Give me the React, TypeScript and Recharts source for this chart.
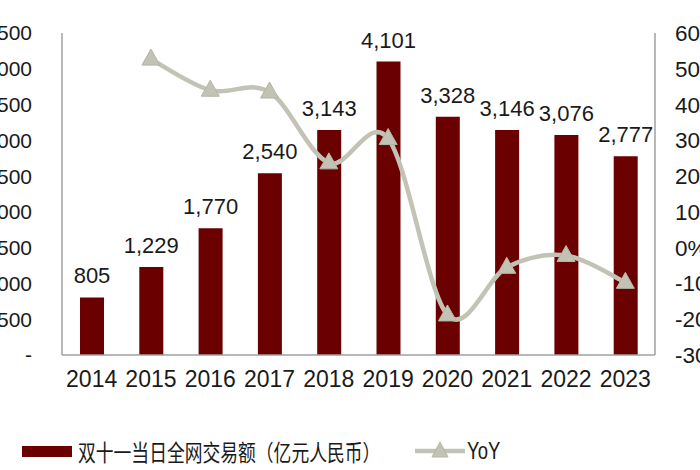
import React from 'react';
import { ComposedChart, Bar, Line, XAxis, YAxis, LabelList } from 'recharts';

const years = ['2014', '2015', '2016', '2017', '2018', '2019', '2020', '2021', '2022', '2023'];
const gmv = [805, 1229, 1770, 2540, 3143, 4101, 3328, 3146, 3076, 2777];
const yoy = [null, 52.7, 44.0, 43.5, 23.7, 30.5, -18.8, -5.5, -2.2, -9.7];
const leftTicks = [0, 500, 1000, 1500, 2000, 2500, 3000, 3500, 4000, 4500];
const rightTicks = [-30, -20, -10, 0, 10, 20, 30, 40, 50, 60];
const boundaryTicks = [1, 2, 3, 4, 5, 6, 7, 8, 9];

const data = years.map((y, i) => ({ year: y, gmv: gmv[i], yoy: yoy[i] }));

const BAR = '#6b0000';
const LINE = '#c3c3b5';
const AXIS = '#a0a0a0';
const TEXT = '#1a1a1a';
const FONT = '"Liberation Sans", Arial, sans-serif';

// Excel-style smoothed line (Catmull-Rom as cubic bezier)
const smoothCurve = (context: any) => {
    let pts: number[][] = [];
    return {
        areaStart() {},
        areaEnd() {},
        lineStart() { pts = []; },
        point(x: number, y: number) { pts.push([+x, +y]); },
        lineEnd() {
            if (!pts.length) return;
            context.moveTo(pts[0][0], pts[0][1]);
            for (let i = 0; i < pts.length - 1; i++) {
                const p0 = pts[i - 1] || pts[i];
                const p1 = pts[i];
                const p2 = pts[i + 1];
                const p3 = pts[i + 2] || p2;
                context.bezierCurveTo(
                    p1[0] + (p2[0] - p0[0]) / 6, p1[1] + (p2[1] - p0[1]) / 6,
                    p2[0] - (p3[0] - p1[0]) / 6, p2[1] - (p3[1] - p1[1]) / 6,
                    p2[0], p2[1]
                );
            }
        },
    };
};

const Triangle = (props: any) => {
    const { cx, cy, value, index } = props;
    if (value == null || cx == null || cy == null) return <g key={`t-${index}`} />;
    return (
        <polygon
            key={`t-${index}`}
            points={`${cx},${cy - 10} ${cx - 9},${cy + 6} ${cx + 9},${cy + 6}`}
            fill={LINE}
            stroke="#b5b5a6"
            strokeWidth={1}
        />
    );
};

export default function App() {
    return (
        <div style={{ position: 'absolute', top: 0, left: 0, width: 700, height: 470, overflow: 'hidden', background: '#fff' }}>
            <div style={{ position: 'absolute', top: 0, left: -30 }}>
                <ComposedChart width={745} height={470} data={data} margin={{ top: 33, right: 0, bottom: 50, left: 0 }}>
                    <XAxis
                        xAxisId="grid"
                        type="number"
                        domain={[0, 10]}
                        ticks={boundaryTicks}
                        height={0}
                        axisLine={false}
                        tick={false}
                        tickSize={6}
                        tickLine={{ stroke: AXIS }}
                    />
                    <XAxis
                        dataKey="year"
                        height={65}
                        tickSize={0}
                        tickMargin={16}
                        axisLine={{ stroke: AXIS, strokeWidth: 1.5 }}
                        tick={{ fill: TEXT, fontSize: 23, fontFamily: FONT }}
                        interval={0}
                    />
                    <YAxis
                        yAxisId="left"
                        width={92}
                        domain={[0, 4500]}
                        ticks={leftTicks}
                        tickSize={0}
                        tickMargin={30}
                        axisLine={{ stroke: AXIS, strokeWidth: 1.5 }}
                        tick={{ fill: TEXT, fontSize: 21, fontFamily: FONT }}
                        tickFormatter={(v: number) => (v === 0 ? '-' : v.toLocaleString('en-US'))}
                    />
                    <YAxis
                        yAxisId="rightTicks"
                        orientation="right"
                        mirror
                        width={0}
                        domain={[-30, 60]}
                        ticks={rightTicks}
                        tickSize={6}
                        tick={false}
                        axisLine={false}
                        tickLine={{ stroke: AXIS }}
                    />
                    <YAxis
                        yAxisId="right"
                        orientation="right"
                        width={60}
                        domain={[-30, 60]}
                        ticks={rightTicks}
                        tickSize={0}
                        tickMargin={18}
                        axisLine={{ stroke: AXIS, strokeWidth: 1.5 }}
                        tick={{ fill: TEXT, fontSize: 22.5, fontFamily: FONT, dx: 2 }}
                        tickFormatter={(v: number) => `${v}%`}
                    />
                    <Bar yAxisId="left" dataKey="gmv" fill={BAR} barSize={24} isAnimationActive={false}>
                        <LabelList
                            dataKey="gmv"
                            position="top"
                            offset={14}
                            fill={TEXT}
                            fontSize={22}
                            fontFamily={FONT}
                            formatter={(v: any) => Number(v).toLocaleString('en-US')}
                        />
                    </Bar>
                    <Line
                        yAxisId="right"
                        dataKey="yoy"
                        type={smoothCurve as any}
                        stroke={LINE}
                        strokeWidth={4.5}
                        dot={Triangle}
                        activeDot={false}
                        isAnimationActive={false}
                    />
                </ComposedChart>
            </div>
            <div style={{ position: 'absolute', top: 438, left: 0, width: 700, height: 26, fontFamily: FONT, color: TEXT }}>
                <div style={{ position: 'absolute', left: 22, top: 8, width: 50, height: 11, background: BAR }} />
                <div style={{ position: 'absolute', left: 78, top: 0, fontFamily: '"Noto Sans CJK SC", sans-serif', fontSize: 17.8, lineHeight: '26px', transform: 'scaleY(1.25)', transformOrigin: 'left center', whiteSpace: 'nowrap' }}>
                    双十一当日全网交易额（亿元人民币）
                </div>
                <svg style={{ position: 'absolute', left: 412, top: 0 }} width={56} height={26}>
                    <line x1={3} x2={53} y1={13} y2={13} stroke={LINE} strokeWidth={4.5} />
                    <polygon points="28,4 20,19 36,19" fill={LINE} stroke="#b5b5a6" strokeWidth={1} />
                </svg>
                <div style={{ position: 'absolute', left: 467, top: 0, fontSize: 18.5, lineHeight: '26px', transform: 'scaleY(1.25)', transformOrigin: 'left center', whiteSpace: 'nowrap' }}>
                    YoY
                </div>
            </div>
        </div>
    );
}
